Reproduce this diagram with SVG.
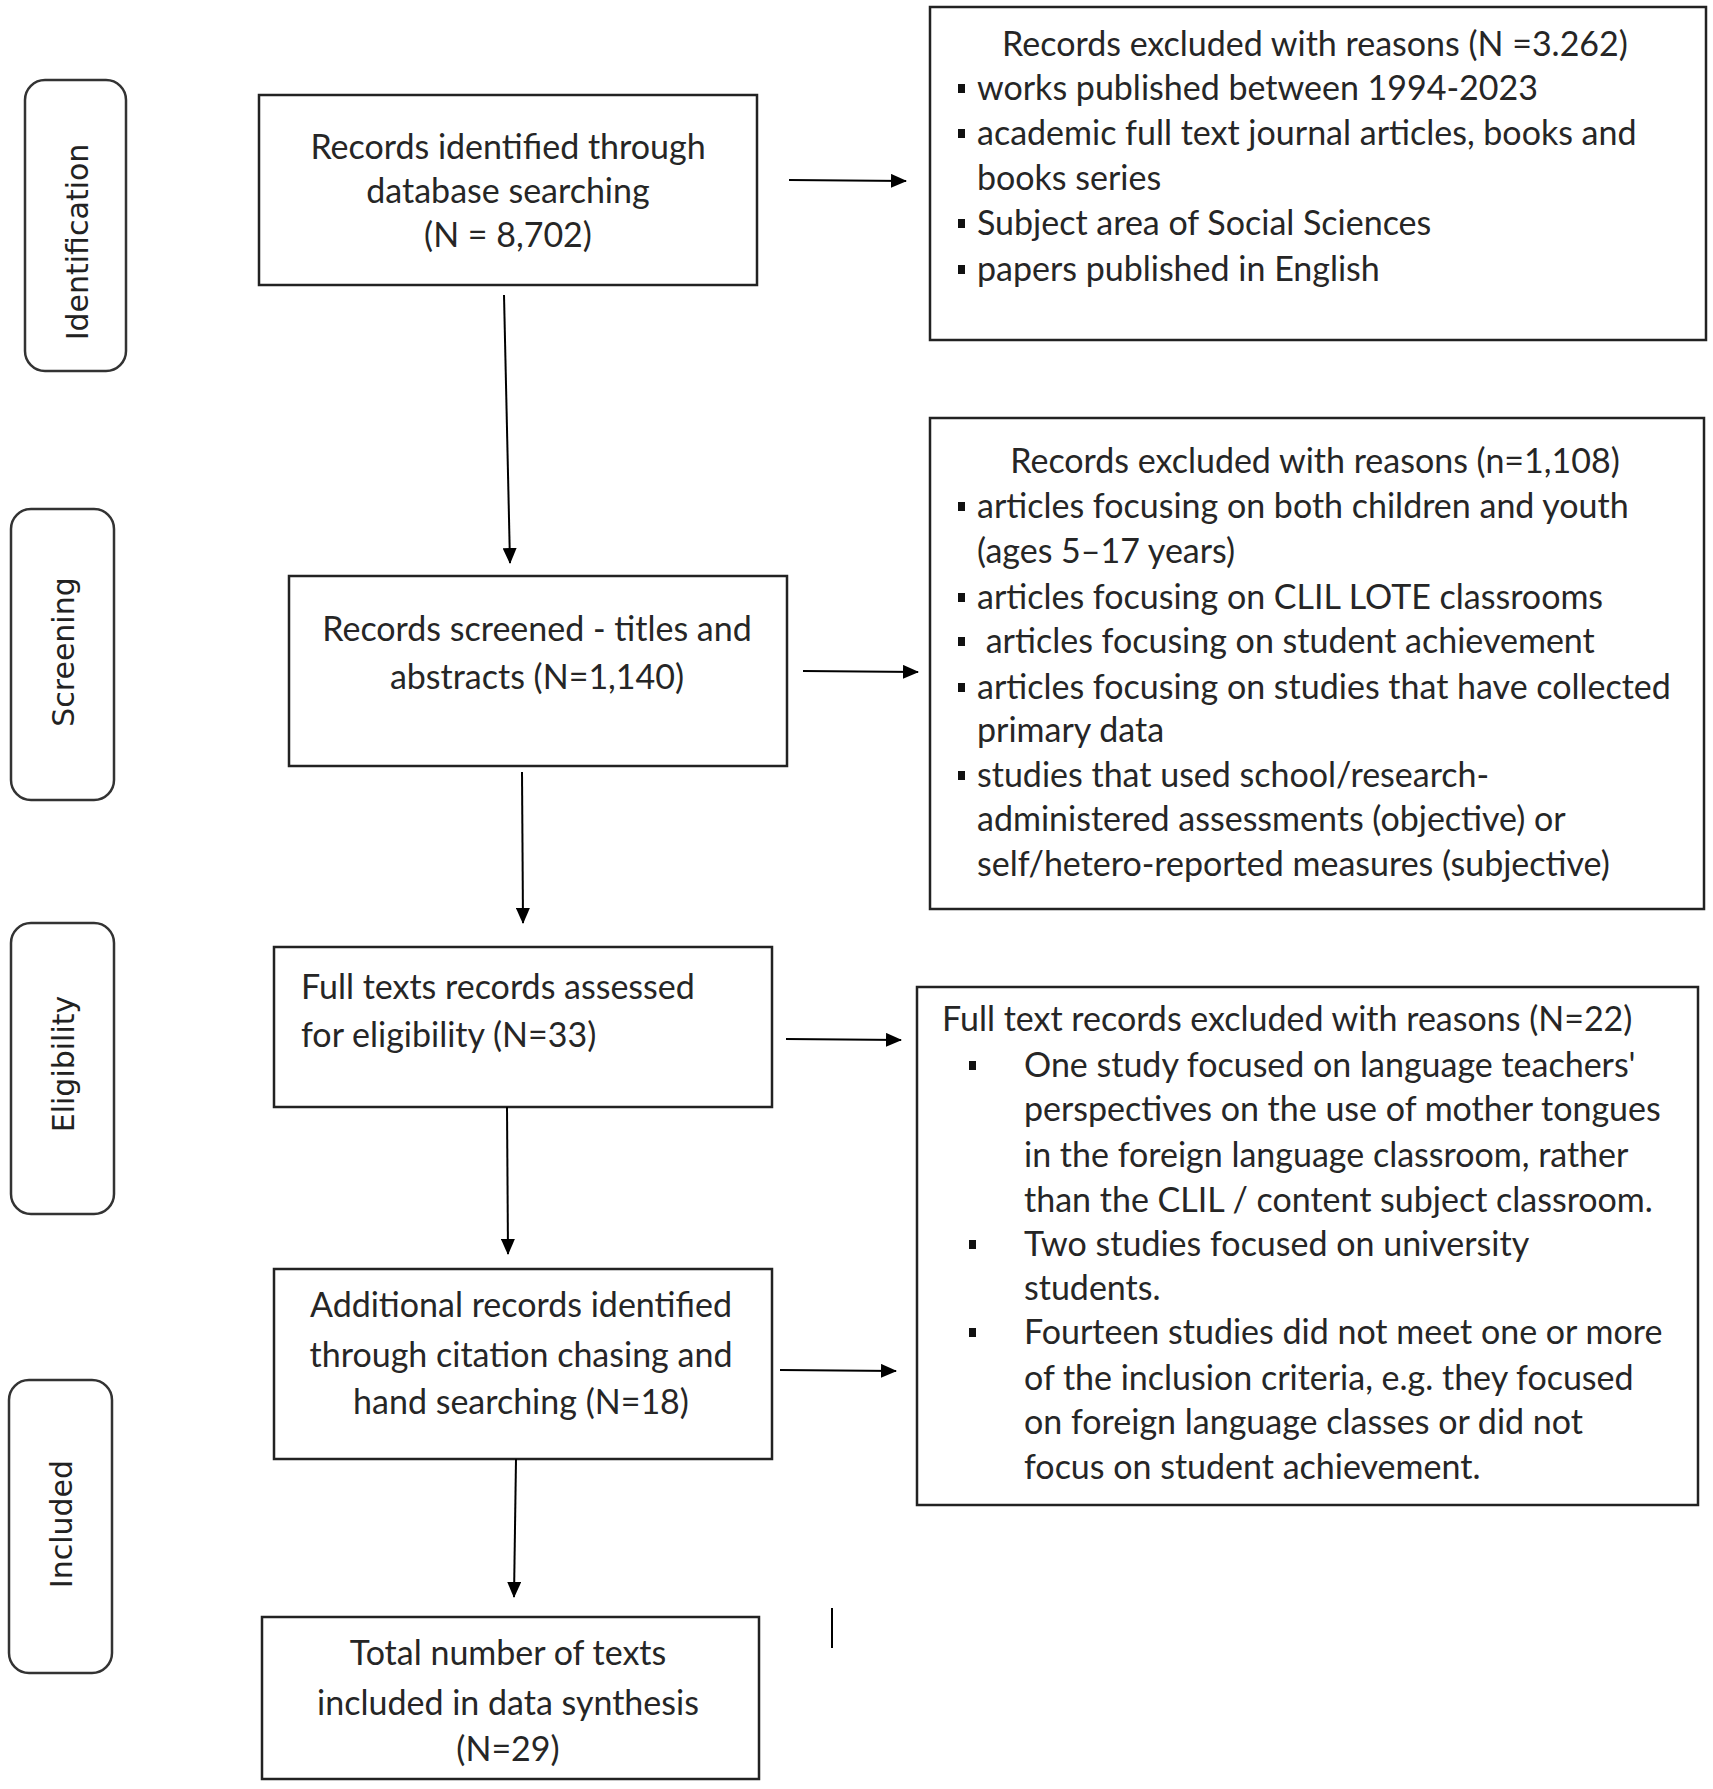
<svg xmlns="http://www.w3.org/2000/svg" width="1713" height="1789" viewBox="0 0 1713 1789">
<defs>
<marker id="ah" markerWidth="16" markerHeight="14" refX="15" refY="7" orient="auto" markerUnits="userSpaceOnUse">
<path d="M0,0 L16,7 L0,14 z" fill="#000"/>
</marker>
<style>
.box{fill:#fff;stroke:#222;stroke-width:2.5}
.pill{fill:#fff;stroke:#333;stroke-width:2.5}
.t{font-family:Lato,"Liberation Sans",sans-serif;font-size:34px;fill:#262626}
.c{text-anchor:middle}
.side{font-family:"DejaVu Sans",Verdana,sans-serif;font-size:30px;fill:#222;text-anchor:middle}
.ln{stroke:#000;stroke-width:2;fill:none}
.bul{fill:#111}
</style>
</defs>
<rect width="1713" height="1789" fill="#fff"/>

<g id="stage-identification">
<rect class="pill" x="25" y="80" width="101" height="291" rx="20"/>
<text class="side" transform="translate(88,242) rotate(-90)">Identification</text>
</g>
<g id="stage-screening">
<rect class="pill" x="11" y="509" width="103" height="291" rx="20"/>
<text class="side" transform="translate(74,652) rotate(-90)">Screening</text>
</g>
<g id="stage-eligibility">
<rect class="pill" x="11" y="923" width="103" height="291" rx="20"/>
<text class="side" transform="translate(74,1064) rotate(-90)">Eligibility</text>
</g>
<g id="stage-included">
<rect class="pill" x="9" y="1380" width="103" height="293" rx="20"/>
<text class="side" transform="translate(72,1524) rotate(-90)">Included</text>
</g>

<g id="identified">
<rect class="box" x="259" y="95" width="498" height="190"/>
<text class="t c" x="508" y="159">Records identified through</text>
<text class="t c" x="508" y="203">database searching</text>
<text class="t c" x="508" y="247">(N = 8,702)</text>
</g>

<g id="excluded1">
<rect class="box" x="930" y="7" width="776" height="333"/>
<text class="t c" x="1315" y="56">Records excluded with reasons (N =3.262)</text>
<rect class="bul" x="958" y="84" width="7" height="9"/>
<text class="t" x="977" y="100">works published between 1994-2023</text>
<rect class="bul" x="958" y="129" width="7" height="9"/>
<text class="t" x="977" y="145">academic full text journal articles, books and</text>
<text class="t" x="977" y="190">books series</text>
<rect class="bul" x="958" y="219" width="7" height="9"/>
<text class="t" x="977" y="235">Subject area of Social Sciences</text>
<rect class="bul" x="958" y="265" width="7" height="9"/>
<text class="t" x="977" y="281">papers published in English</text>
</g>

<g id="screened">
<rect class="box" x="289" y="576" width="498" height="190"/>
<text class="t c" x="537" y="641">Records screened - titles and</text>
<text class="t c" x="537" y="689">abstracts (N=1,140)</text>
</g>

<g id="excluded2">
<rect class="box" x="930" y="418" width="774" height="491"/>
<text class="t c" x="1315" y="473">Records excluded with reasons (n=1,108)</text>
<rect class="bul" x="958" y="502" width="7" height="9"/>
<text class="t" x="977" y="518">articles focusing on both children and youth</text>
<text class="t" x="977" y="563">(ages 5–17 years)</text>
<rect class="bul" x="958" y="593" width="7" height="9"/>
<text class="t" x="977" y="609">articles focusing on CLIL LOTE classrooms</text>
<rect class="bul" x="958" y="637" width="7" height="9"/>
<text class="t" x="977" y="653" xml:space="preserve"> articles focusing on student achievement</text>
<rect class="bul" x="958" y="683" width="7" height="9"/>
<text class="t" x="977" y="699">articles focusing on studies that have collected</text>
<text class="t" x="977" y="742">primary data</text>
<rect class="bul" x="958" y="771" width="7" height="9"/>
<text class="t" x="977" y="787">studies that used school/research-</text>
<text class="t" x="977" y="831">administered assessments (objective) or</text>
<text class="t" x="977" y="876">self/hetero-reported measures (subjective)</text>
</g>

<g id="fulltext">
<rect class="box" x="274" y="947" width="498" height="160"/>
<text class="t" x="301" y="999">Full texts records assessed</text>
<text class="t" x="301" y="1047">for eligibility (N=33)</text>
</g>

<g id="excluded3">
<rect class="box" x="917" y="987" width="781" height="518"/>
<text class="t" x="942" y="1031">Full text records excluded with reasons (N=22)</text>
<rect class="bul" x="969" y="1061" width="7" height="9"/>
<text class="t" x="1024" y="1077">One study focused on language teachers'</text>
<text class="t" x="1024" y="1121">perspectives on the use of mother tongues</text>
<text class="t" x="1024" y="1167">in the foreign language classroom, rather</text>
<text class="t" x="1024" y="1212">than the CLIL / content subject classroom.</text>
<rect class="bul" x="969" y="1240" width="7" height="9"/>
<text class="t" x="1024" y="1256">Two studies focused on university</text>
<text class="t" x="1024" y="1300">students.</text>
<rect class="bul" x="969" y="1328" width="7" height="9"/>
<text class="t" x="1024" y="1344">Fourteen studies did not meet one or more</text>
<text class="t" x="1024" y="1390">of the inclusion criteria, e.g. they focused</text>
<text class="t" x="1024" y="1434">on foreign language classes or did not</text>
<text class="t" x="1024" y="1479">focus on student achievement.</text>
</g>

<g id="additional">
<rect class="box" x="274" y="1269" width="498" height="190"/>
<text class="t c" x="521" y="1317">Additional records identified</text>
<text class="t c" x="521" y="1367">through citation chasing and</text>
<text class="t c" x="521" y="1414">hand searching (N=18)</text>
</g>

<g id="total">
<rect class="box" x="262" y="1617" width="497" height="162"/>
<text class="t c" x="508" y="1665">Total number of texts</text>
<text class="t c" x="508" y="1715">included in data synthesis</text>
<text class="t c" x="508" y="1761">(N=29)</text>
</g>

<g id="connectors">
<line class="ln" x1="789" y1="180" x2="906" y2="181" marker-end="url(#ah)"/>
<line class="ln" x1="803" y1="671" x2="918" y2="672" marker-end="url(#ah)"/>
<line class="ln" x1="786" y1="1039" x2="901" y2="1040" marker-end="url(#ah)"/>
<line class="ln" x1="780" y1="1370" x2="896" y2="1371" marker-end="url(#ah)"/>
<line class="ln" x1="504" y1="295" x2="510" y2="563" marker-end="url(#ah)"/>
<line class="ln" x1="522" y1="772" x2="523" y2="923" marker-end="url(#ah)"/>
<line class="ln" x1="507" y1="1107" x2="508" y2="1254" marker-end="url(#ah)"/>
<line class="ln" x1="516" y1="1459" x2="514" y2="1597" marker-end="url(#ah)"/>
<line class="ln" x1="832" y1="1608" x2="832" y2="1648"/>
</g>
</svg>
